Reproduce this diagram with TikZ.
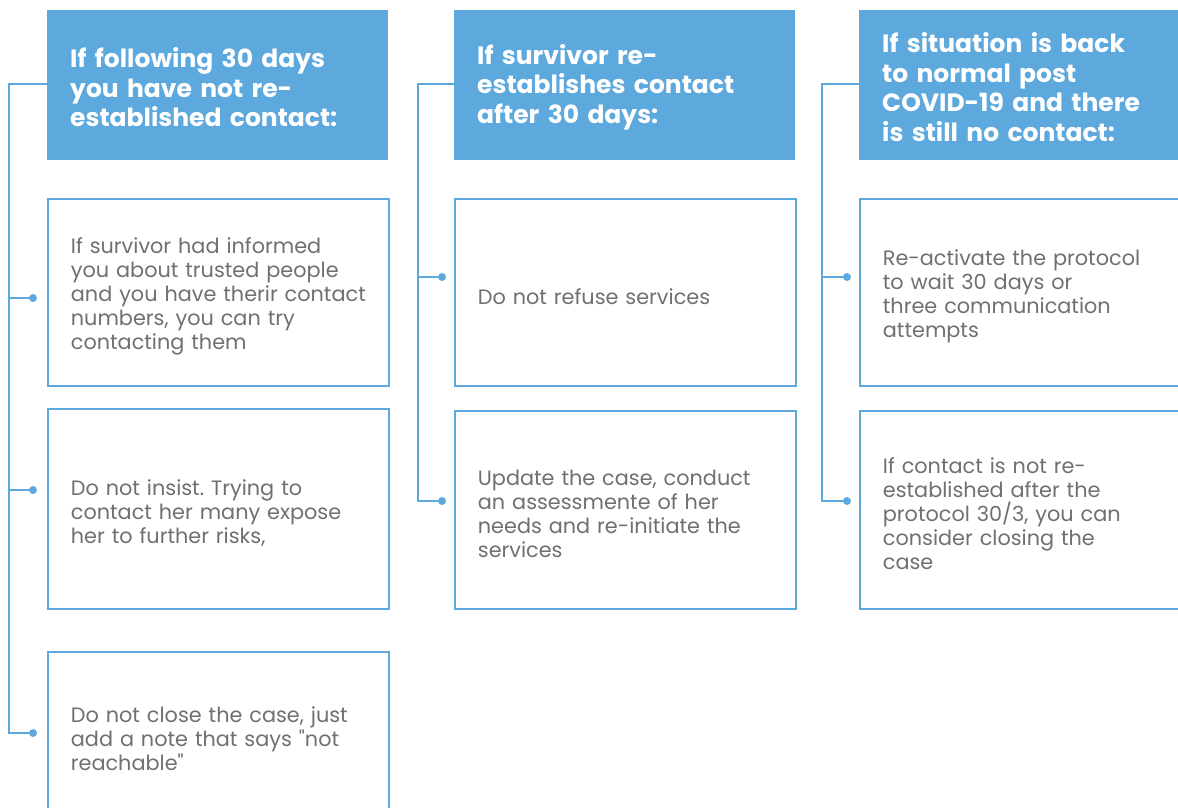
\documentclass[tikz,border=0pt]{standalone}
\usepackage{fontspec}
\setmainfont{Poppins}
\frenchspacing
\definecolor{hblue}{RGB}{93,169,221}
\definecolor{tgrey}{RGB}{112,112,112}
\tikzset{
  hdr/.style={fill=hblue, draw=none, anchor=north west, minimum width=341pt, minimum height=150pt,
    text width=295pt, inner xsep=23pt, inner ysep=0pt, align=left, text=white,
    font=\fontsize{25}{29.5}\selectfont\bfseries,
    execute at begin node={\rule{0pt}{24pt}}},
  bodybox/.style={draw=hblue, line width=1.8pt, fill=white, anchor=north west, minimum width=341pt,
    text width=295pt, inner xsep=23pt, inner ysep=0pt, align=left, text=tgrey,
    font=\fontsize{20.8}{24}\selectfont,
    execute at begin node={\rule{0pt}{24pt}}},
  conn/.style={draw=hblue, line width=1.8pt},
  dotnode/.style={circle, fill=hblue, inner sep=0pt, minimum size=8pt},
}
\begin{document}
\begin{tikzpicture}[x=1pt,y=-1pt]
\useasboundingbox (0,0) rectangle (1178,807);
\clip (0,0) rectangle (1178,807);
% column 1
\node[hdr] (h1) at (47,10) {If following 30 days\\you have not re-\\established contact:};
\node[bodybox, minimum height=187pt] (b11) at (47,198) {If survivor had informed\\you about trusted people\\and you have therir contact\\numbers, you can try\\contacting them};
\node[bodybox, minimum height=200pt] (b12) at (47,408) {Do not insist. Trying to\\contact her many expose\\her to further risks,};
\node[bodybox, minimum height=166pt] (b13) at (47,651) {Do not close the case, just\\add a note that says \textquotedbl not\\reachable\textquotedbl};
% column 2
\node[hdr] (h2) at (454,10) {If survivor re-\\establishes contact\\after 30 days:};
\node[bodybox, minimum height=187pt] (b21) at (454,198) {Do not refuse services};
\node[bodybox, minimum height=198pt] (b22) at (454,410) {Update the case, conduct\\an assessmente of her\\needs and re-initiate the\\services};
% column 3
\node[hdr] (h3) at (859,10) {If situation is back\\to normal post\\COVID-19 and there\\is still no contact:};
\node[bodybox, minimum height=187pt] (b31) at (859,198) {Re-activate the protocol\\to wait 30 days or\\three communication\\attempts};
\node[bodybox, minimum height=198pt] (b32) at (859,410) {If contact is not re-\\established after the\\protocol 30/3, you can\\consider closing the\\case};
% connector points
\coordinate (v1) at (9,84);
\coordinate (v2) at (418,84);
\coordinate (v3) at (822,84);
\node[dotnode] (d11) at (33,298) {};
\node[dotnode] (d12) at (33,490) {};
\node[dotnode] (d13) at (33,733) {};
\node[dotnode] (d21) at (442,277) {};
\node[dotnode] (d22) at (442,501) {};
\node[dotnode] (d31) at (847,277) {};
\node[dotnode] (d32) at (847,501) {};
% connectors
\draw[conn] (h1.west |- v1) -- (v1) -- (v1 |- d13) -- (d13.center);
\draw[conn] (v1 |- d11) -- (d11.center);
\draw[conn] (v1 |- d12) -- (d12.center);
\draw[conn] (h2.west |- v2) -- (v2) -- (v2 |- d22) -- (d22.center);
\draw[conn] (v2 |- d21) -- (d21.center);
\draw[conn] (h3.west |- v3) -- (v3) -- (v3 |- d32) -- (d32.center);
\draw[conn] (v3 |- d31) -- (d31.center);
\end{tikzpicture}
\end{document}
